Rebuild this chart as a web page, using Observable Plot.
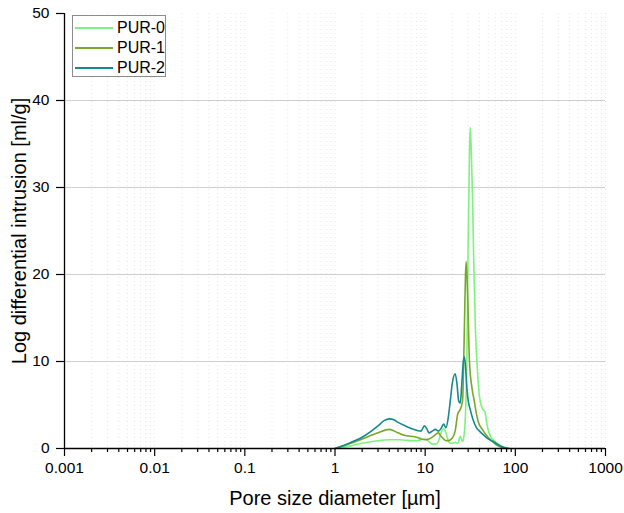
<!DOCTYPE html>
<html>
<head>
<meta charset="utf-8">
<script src="https://cdn.jsdelivr.net/npm/d3@7"></script>
<script src="https://cdn.jsdelivr.net/npm/@observablehq/plot@0.6"></script>
<style>
  html, body { margin: 0; padding: 0; background: #fff; }
  #wrap { position: relative; width: 624px; height: 513px; font-family: "Liberation Sans", Arial, sans-serif; }
  #legend { position: absolute; left: 72px; top: 15px; width: 94px; height: 62px; border: 1px solid #8c8c8c; background: #fff; box-sizing: border-box; }
  .row { position: absolute; left: 0; height: 20px; display: flex; align-items: center; font-size: 16px; color: #000; }
  .sw { width: 38px; height: 2px; margin-left: 2px; margin-right: 4px; }
</style>
</head>
<body>
<div id="wrap"></div>
<script>
// ---- data ----
const seriesNames = ["PUR-0", "PUR-1", "PUR-2"];
const seriesColors = ["#7ef27e", "#78a72c", "#17898c"];

const pur0X = [1, 1.5, 2, 3, 4, 5, 6, 7, 8, 9, 10, 11, 12, 13, 14, 15, 16, 17, 18, 19, 20, 21.5, 23, 24.5, 26, 27, 28, 29, 30, 31, 31.6, 32.5, 33.5, 34.5, 36, 38, 40, 43, 46, 49, 53, 58, 63, 70, 78, 85, 90];
const pur0Y = [0, 0.3, 0.6, 0.9, 1.0, 1.0, 0.95, 0.9, 0.9, 1.0, 1.1, 0.8, 0.5, 0.5, 0.8, 1.8, 2.3, 1.8, 0.9, 0.6, 0.6, 0.7, 0.6, 1.4, 0.8, 1.5, 4, 10, 24, 34, 36.9, 34, 29, 22, 14, 9, 6, 4.6, 4.2, 2.5, 1.4, 0.9, 0.6, 0.3, 0.1, 0.02, 0];

const pur1X = [1, 1.5, 2, 3, 4, 5, 6, 7, 8, 9, 10, 11, 12, 13, 14, 15, 16, 17, 18, 20, 21.5, 23, 24.5, 26, 27, 28, 28.5, 29.5, 31, 33, 35, 37, 39, 43, 48, 53, 60, 70, 80];
const pur1Y = [0, 0.6, 1.1, 1.8, 2.2, 1.8, 1.5, 1.4, 1.3, 1.1, 1.0, 1.1, 1.3, 1.6, 1.8, 1.4, 1.1, 0.9, 0.9, 1.2, 2.0, 4.0, 4.5, 5.5, 12, 20, 21.5, 18, 10, 7, 5.5, 4, 3, 2.2, 1.5, 1.0, 0.5, 0.15, 0];

const pur2X = [1, 1.5, 2, 3, 3.5, 4, 4.5, 5, 6, 7, 8, 9, 9.8, 10.5, 11, 12, 13, 14, 15, 16, 17, 18, 19, 20, 21.5, 22.5, 23.5, 24.5, 25.5, 26.5, 27.2, 28, 29, 30, 31.6, 34, 37, 40, 45, 50, 57, 65, 75, 84];
const pur2Y = [0, 0.7, 1.3, 2.6, 3.2, 3.4, 3.3, 3.0, 2.6, 2.3, 2.1, 2.0, 2.6, 2.2, 1.8, 2.0, 2.2, 2.0, 2.3, 2.8, 2.4, 3.5, 5.5, 7.5, 8.6, 7.5, 5.5, 5.2, 7.5, 10.0, 10.5, 9.5, 7.0, 5.5, 4.5, 3.3, 2.4, 2.0, 1.5, 1.1, 0.8, 0.4, 0.1, 0];

const xMajorTicks = [0.001, 0.01, 0.1, 1, 10, 100, 1000];
const xTickLabels = ["0.001", "0.01", "0.1", "1", "10", "100", "1000"];
const yTicks = [0, 10, 20, 30, 40, 50];
const yGrid = [10, 20, 30, 40];
const xLabel = "Pore size diameter [µm]";
const yLabel = "Log differential intrusion [ml/g]";

// ---- build tables ----
const allX = [pur0X, pur1X, pur2X];
const allY = [pur0Y, pur1Y, pur2Y];
const data = [];
seriesNames.forEach((name, i) => {
  allX[i].forEach((x, j) => data.push({series: name, x, y: allY[i][j]}));
});
const xMinorTicks = [];
for (let e = -3; e < 3; e++) for (let m = 2; m <= 9; m++) xMinorTicks.push(+(m * Math.pow(10, e)).toPrecision(3));
const labelOf = new Map(xMajorTicks.map((t, i) => [t, xTickLabels[i]]));

const font = '"Liberation Sans", Arial, sans-serif';

const chart = Plot.plot({
  width: 624,
  height: 513,
  marginLeft: 64,
  marginRight: 19,
  marginTop: 13,
  marginBottom: 65,
  style: {fontFamily: font, background: "#fff", overflow: "visible"},
  x: {type: "log", domain: [0.001, 1000]},
  y: {domain: [0, 50]},
  color: {domain: seriesNames, range: seriesColors},
  marks: [
    Plot.gridX(xMinorTicks.concat(xMajorTicks), {stroke: "#e6e6e6", strokeOpacity: 1, strokeDasharray: "1,3"}),
    Plot.gridY(yGrid, {stroke: "#cfcfcf", strokeOpacity: 1, strokeWidth: 1}),
    Plot.line(data, {x: "x", y: "y", z: "series", stroke: "series", strokeWidth: 1.6, curve: "monotone-x"}),
    Plot.ruleX([0.001], {stroke: "#000", strokeWidth: 1.3}),
    Plot.ruleY([0], {stroke: "#000", strokeWidth: 1.3}),
    Plot.axisX(xMinorTicks, {tickSize: 4, tickFormat: () => "", stroke: "#000", strokeWidth: 1.2, label: null}),
    Plot.axisX(xMajorTicks, {tickSize: 8, tickPadding: 5, tickFormat: d => labelOf.get(d), fontSize: 15.5, fill: "#000", stroke: "#000", strokeWidth: 1.2, label: null}),
    Plot.axisY(yTicks, {tickSize: 8, tickPadding: 7, tickFormat: d => String(d), fontSize: 15.5, fill: "#000", stroke: "#000", strokeWidth: 1.2, label: null}),
    Plot.text([xLabel], {text: d => d, frameAnchor: "bottom", textAnchor: "middle", lineAnchor: "middle", dy: 50, fontSize: 20, fill: "#000"}),
    Plot.text([yLabel], {text: d => d, frameAnchor: "left", textAnchor: "middle", lineAnchor: "middle", rotate: -90, dx: -45, fontSize: 20, fill: "#000"})
  ]
});

const wrap = document.getElementById("wrap");
wrap.appendChild(chart);

// legend
const legend = document.createElement("div");
legend.id = "legend";
seriesNames.forEach((name, i) => {
  const row = document.createElement("div");
  row.className = "row";
  row.style.top = (2 + i * 20) + "px";
  const sw = document.createElement("span");
  sw.className = "sw";
  sw.style.background = seriesColors[i];
  const t = document.createElement("span");
  t.textContent = name;
  row.appendChild(sw);
  row.appendChild(t);
  legend.appendChild(row);
});
wrap.appendChild(legend);
</script>
</body>
</html>
